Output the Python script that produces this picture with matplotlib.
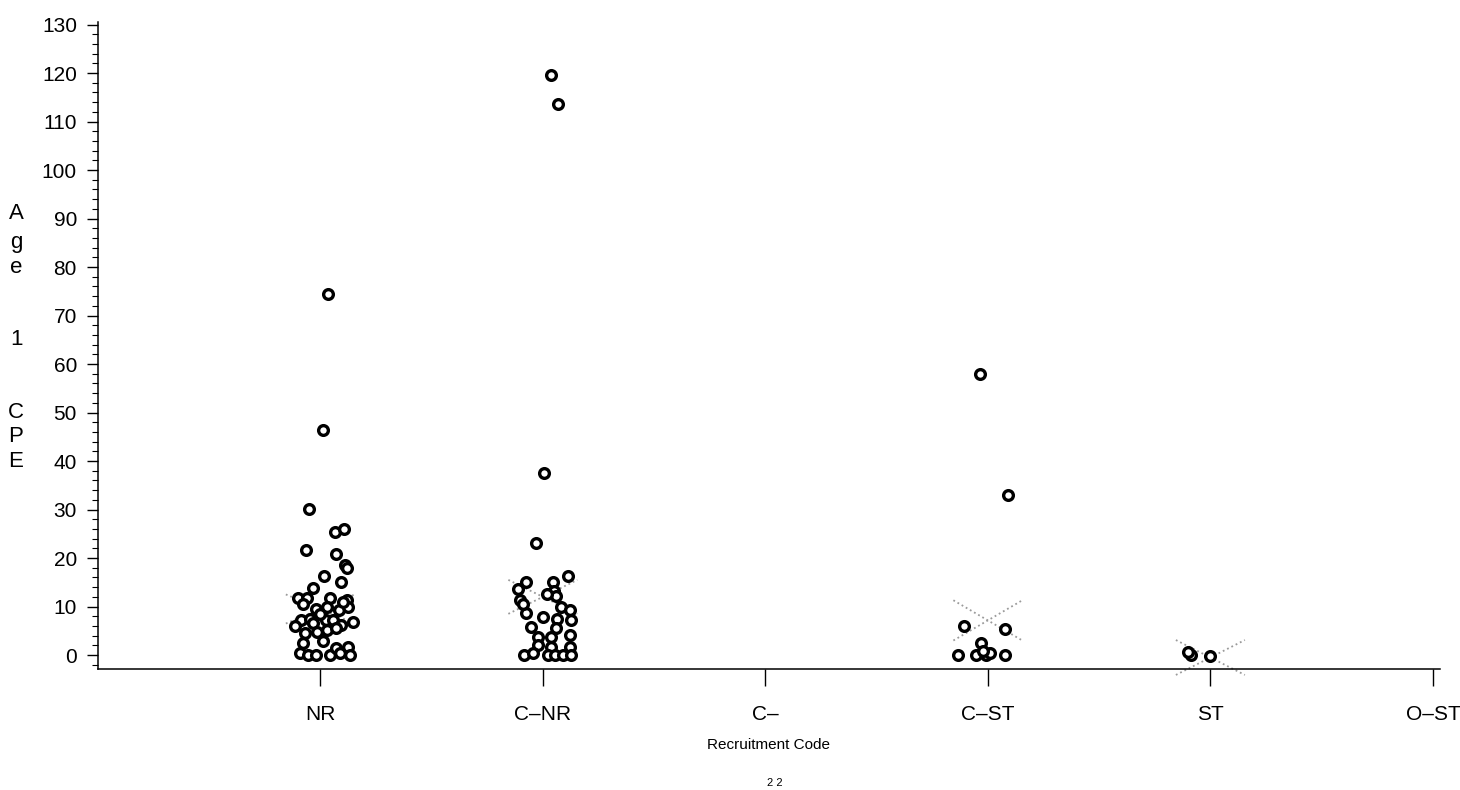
import matplotlib
matplotlib.use("Agg")
import matplotlib.pyplot as plt
from matplotlib.ticker import MultipleLocator
import matplotlib.transforms as mtransforms

plt.rcParams['font.family'] = ['Liberation Sans', 'DejaVu Sans']

# recruitment code categories (x positions 1..6)
codes = ["NR", "C-NR", "C-", "C-ST", "ST", "O-ST"]
code_labels = ["NR", "C\u2013NR", "C\u2013", "C\u2013ST", "ST", "O\u2013ST"]

# age 1 CPE per group, with the horizontal jitter
nr_jitter = [0.036, 0.013, -0.049, 0.067, 0.108, -0.063, 0.072, 0.112, 0.121, 0.018,
             0.094, -0.031, -0.099, -0.058, 0.045, 0.121, -0.018, 0.031, 0.085, 0.126,
             -0.085, -0.045, -0.031, 0.027, 0.058, 0.094, 0.148, -0.013, 0.031, -0.067,
             -0.076, -0.090, -0.054, -0.018, 0.045, 0.072, 0.090, 0.126, 0.135,
             0.000, 0.103, -0.076, 0.013, 0.072, -0.112]
nr_cpe = [74.5, 46.4, 30.2, 25.3, 25.9, 21.6, 20.9, 18.5, 17.9, 16.4,
          15.0, 13.8, 11.7, 11.7, 11.7, 11.3, 9.6, 9.9, 9.2, 9.9,
          7.2, 7.4, 6.6, 7.2, 7.2, 6.2, 6.8, 4.7, 5.1, 4.5,
          2.5, 0.4, 0.0, 0.0, 0.0, 1.4, 0.4, 1.6, 0.0,
          8.5, 11.0, 10.5, 3.0, 5.5, 6.0]

cnr_jitter = [0.036, 0.067, 0.004, -0.031, 0.112, -0.076, -0.112, 0.045, 0.049, -0.103,
              0.058, 0.081, 0.121, 0.126, -0.076, 0.000, 0.063, -0.054, -0.022, 0.058,
              0.121, -0.022, 0.036, 0.121, -0.085, -0.045, 0.022, 0.054, 0.090, 0.126,
              0.036, -0.090, 0.020]
cnr_cpe = [119.7, 113.6, 37.6, 23.2, 16.2, 15.0, 13.6, 15.0, 13.3, 11.3,
           12.1, 9.9, 9.2, 7.2, 8.6, 7.8, 7.4, 5.7, 3.7, 5.5,
           4.1, 2.1, 1.6, 1.6, 0.0, 0.4, 0.0, 0.0, 0.0, 0.0,
           3.7, 10.5, 12.5]

cst_jitter = [-0.036, 0.090, -0.108, 0.076, -0.135, -0.054, -0.009, 0.009, 0.076, -0.031, -0.022]
cst_cpe = [57.9, 33.1, 6.0, 5.3, 0.0, 0.0, 0.0, 0.4, 0.0, 2.5, 0.8]

st_jitter = [-0.085, 0.000, -0.099]
st_cpe = [0.0, -0.2, 0.6]

# grey crossed boxes (low, high) drawn over four of the groups
box_pos = [1, 2, 4, 5]
box_low = [6.5, 8.5, 3.0, -4.1]
box_high = [12.5, 15.5, 11.3, 3.1]

fig = plt.figure(figsize=(14.6, 7.9), dpi=100)
ax = fig.add_axes([0.067, 0.153, 0.919, 0.819])

groups = [(1, nr_jitter, nr_cpe), (2, cnr_jitter, cnr_cpe),
          (4, cst_jitter, cst_cpe), (5, st_jitter, st_cpe)]
for pos, jit, cpe in groups:
    xs = [pos + j for j in jit]
    ax.plot(xs, cpe, 'o', ms=7, mfc='white', mec='black', mew=2.4, ls='none', zorder=3)

for pos, lo, hi in zip(box_pos, box_low, box_high):
    w = 0.155
    ax.plot([pos - w, pos + w], [lo, hi], ls=':', color='#9a9a9a', lw=1.3, clip_on=False, zorder=2)
    ax.plot([pos - w, pos + w], [hi, lo], ls=':', color='#9a9a9a', lw=1.3, clip_on=False, zorder=2)

ax.set_xlim(0, 6.03)
ax.set_ylim(-2.9, 130.5)
ax.set_xticks(range(1, 7))
ax.set_xticklabels(code_labels, fontsize=15)
ax.set_yticks(range(0, 131, 10))
ax.yaxis.set_minor_locator(MultipleLocator(2))
ax.tick_params(axis='y', which='major', direction='out', length=8, width=1, labelsize=15, pad=7)
ax.tick_params(axis='y', which='minor', direction='out', length=4, width=0.8)
ax.tick_params(axis='x', direction='out', length=12, width=1, pad=14)

for side in ['top', 'right']:
    ax.spines[side].set_visible(False)
ax.spines['left'].set_linewidth(1.1)
ax.spines['bottom'].set_linewidth(1.1)

ax.set_xlabel("Recruitment Code", fontsize=11, labelpad=10)

# stacked y axis title
trans = mtransforms.blended_transform_factory(fig.transFigure, ax.transData)
ylabel_letters = ["A", "g", "e", "1", "C", "P", "E"]
ylabel_levels = [91, 85, 80, 65, 50, 45, 40]
for letter, lev in zip(ylabel_letters, ylabel_levels):
    ax.text(0.011, lev, letter, transform=trans, fontsize=16, ha='center', va='center')

fig.text(0.531, 0.003, "2 2", fontsize=8, ha='center', va='bottom')

fig.savefig("out.png", dpi=100)
plt.close("all")
